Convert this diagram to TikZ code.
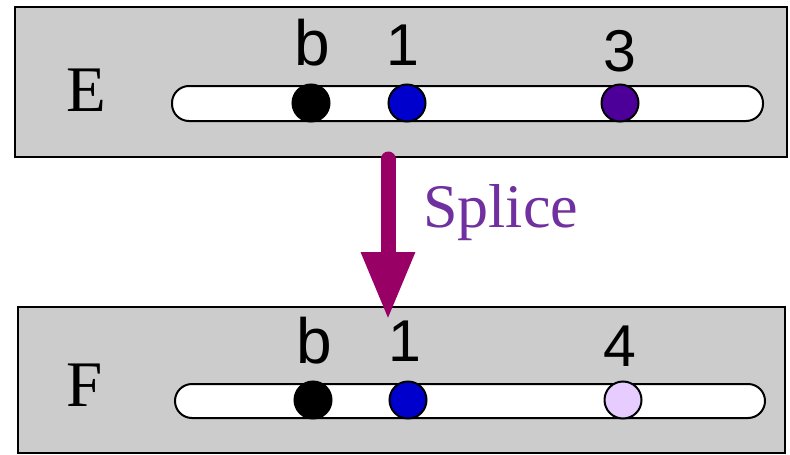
\documentclass[tikz,border=0pt]{standalone}
\usepackage{fontspec}
\setmainfont{Liberation Serif}
\newfontfamily\arialf{Liberation Sans}
\usetikzlibrary{arrows.meta}
\definecolor{boxgray}{HTML}{CCCCCC}
\definecolor{dotblue}{HTML}{0000CC}
\definecolor{dotpurple}{HTML}{4C0099}
\definecolor{dotlav}{HTML}{E6CCFF}
\definecolor{arrowmag}{HTML}{990066}
\definecolor{splicecol}{HTML}{7030A0}
\tikzset{
  panel/.style={draw=black, fill=boxgray, line width=2.5pt, inner sep=0pt},
  strand/.style={draw=black, fill=white, line width=2pt, rounded corners=17pt, inner sep=0pt},
  site/.style={circle, draw=black, line width=2pt, minimum size=37pt, inner sep=0pt},
  sitelbl/.style={font=\arialf\fontsize{59}{59}\selectfont, anchor=base, inner sep=0pt},
  blbl/.style={font=\arialf\fontsize{64}{64}\selectfont, anchor=base, inner sep=0pt},
  mol/.style={font=\fontsize{65}{65}\selectfont, anchor=base, inner sep=0pt},
  splicearrow/.style={draw=arrowmag, line width=15pt, line cap=round, -{Triangle[width=50pt,length=68pt]}}
}
\begin{document}
\begin{tikzpicture}[x=1pt,y=-1pt]
\useasboundingbox (0,0) rectangle (790,455);
% panels
\node[panel, minimum width=772pt, minimum height=150pt] (top) at (401,82) {};
\node[panel, minimum width=767pt, minimum height=146pt] (bot) at (401.5,380) {};
% strands
\node[strand, minimum width=591pt, minimum height=35pt] (topstrand) at (467.5,103.5) {};
\node[strand, minimum width=590pt, minimum height=34pt] (botstrand) at (470,401) {};
% molecule labels
\node[mol] (E) at (86,111) {E};
\node[mol] (F) at (85,406) {F};
% top sites
\node[site, fill=black] (tb) at (311,103) {};
\node[site, fill=dotblue] (t1) at (407,103) {};
\node[site, fill=dotpurple] (t3) at (620,103) {};
\node[blbl] (tbl) at (312,65) {b};
\node[sitelbl] (t1l) at (403,65) {1};
\node[sitelbl] (t3l) at (620,71) {3};
% bottom sites
\node[site, fill=black] (bb) at (313,400) {};
\node[site, fill=dotblue] (b1) at (408,400) {};
\node[site, fill=dotlav] (b4) at (623,400) {};
\node[blbl] (bbl) at (314,363) {b};
\node[sitelbl] (b1l) at (405,361) {1};
\node[sitelbl] (b4l) at (620,366) {4};
% arrow
\coordinate (arrS) at (388,159);
\coordinate (arrE) at (388,320);
\draw[splicearrow] (arrS) -- (arrE);
\node[font=\fontsize{62}{62}\selectfont, text=splicecol, anchor=base west, inner sep=0pt] (splice) at (423,227) {Splice};
\end{tikzpicture}
\end{document}
